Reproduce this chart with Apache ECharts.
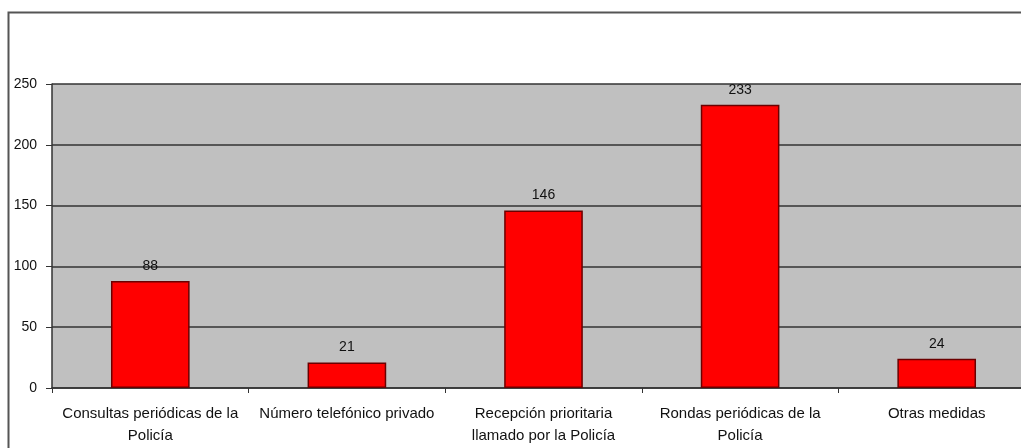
<!DOCTYPE html>
<html><head><meta charset="utf-8">
<script src="https://cdn.jsdelivr.net/npm/echarts@6/dist/echarts.min.js"></script>
<style>html,body{margin:0;padding:0;background:#fff}#c{width:1021px;height:448px}</style>
</head><body><div id="c"></div>
<script>
var categories = ['Consultas periódicas de la\nPolicía', 'Número telefónico privado', 'Recepción prioritaria\nllamado por la Policía', 'Rondas periódicas de la\nPolicía', 'Otras medidas'];
var values = [88, 21, 146, 233, 24];
var yTicks = [0, 50, 100, 150, 200, 250];

var chart = echarts.init(document.getElementById('c'));
chart.setOption({
  animation: false,
  graphic: [{type:'rect', shape:{x:8.5,y:12.5,width:1100,height:500}, style:{fill:null, stroke:'#555', lineWidth:2}, z:-1}],
  grid: {left: 52, right: -14, top: 84, bottom: 60, backgroundColor: '#c0c0c0', show: true, borderWidth: 0, outerBoundsMode: 'none', containLabel: false},
  xAxis: {type:'category', data: categories,
    axisLine:{lineStyle:{color:'#333', width:1.5}},
    axisTick:{show:true, alignWithLabel:false, length:5, lineStyle:{color:'#333'}},
    axisLabel:{color:'#111', fontFamily:'Liberation Sans', fontSize:15, lineHeight:22, margin:15, interval:0}
  },
  yAxis: {type:'value', min:0, max:250, interval:50,
    axisLine:{show:true, lineStyle:{color:'#333', width:1.5}},
    axisTick:{show:true, length:6, lineStyle:{color:'#333'}},
    splitLine:{lineStyle:{color:'#333', width:1.5}},
    axisLabel:{color:'#111', fontFamily:'Liberation Sans', fontSize:14, margin:15,
      formatter: function(v){ return yTicks.indexOf(v) >= 0 ? String(v) : ''; }}
  },
  series: [{type:'bar', data: values, barWidth: '40%',
    itemStyle:{color:'#ff0000', borderColor:'#6b0000', borderWidth:1.5},
    label:{show:true, position:'top', distance:8, color:'#111', fontFamily:'Liberation Sans', fontSize:14}
  }]
});
</script></body></html>
